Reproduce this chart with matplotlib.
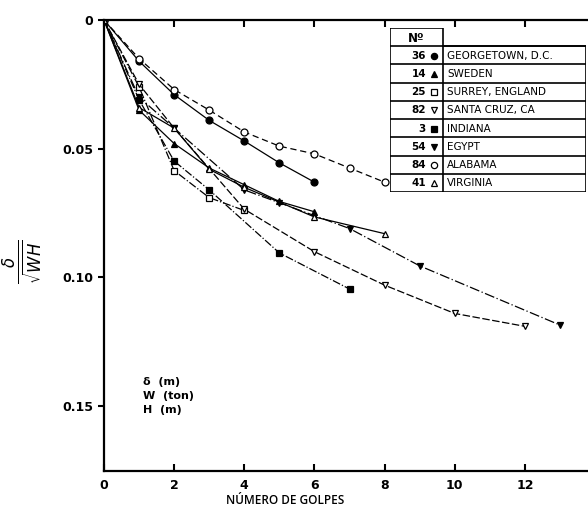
import matplotlib.pyplot as plt

# blows vs. normalised set, one series per site
golpes_georgetown = [0, 1, 2, 3, 4, 5, 6]
set_georgetown = [0, 0.016, 0.029, 0.039, 0.047, 0.0555, 0.063]

golpes_sweden = [0, 1, 2, 3, 4, 5, 6]
set_sweden = [0, 0.035, 0.048, 0.0575, 0.064, 0.0705, 0.0745]

golpes_surrey = [0, 1, 2, 3, 4]
set_surrey = [0, 0.026, 0.0585, 0.069, 0.074]

golpes_santacruz = [0, 1, 2, 4, 6, 8, 10, 12]
set_santacruz = [0, 0.025, 0.042, 0.0735, 0.090, 0.103, 0.114, 0.119]

golpes_indiana = [0, 1, 2, 3, 5, 7]
set_indiana = [0, 0.031, 0.0548, 0.066, 0.0905, 0.1045]

golpes_egypt = [0, 1, 2, 4, 5, 7, 9, 13]
set_egypt = [0, 0.030, 0.042, 0.066, 0.071, 0.081, 0.0955, 0.1185]

golpes_alabama = [0, 1, 2, 3, 4, 5, 6, 7, 8]
set_alabama = [0, 0.015, 0.027, 0.035, 0.0435, 0.049, 0.052, 0.0575, 0.063]

golpes_virginia = [0, 1, 2, 3, 4, 6, 8]
set_virginia = [0, 0.034, 0.042, 0.058, 0.065, 0.0765, 0.083]

numeros = ['36', '14', '25', '82', '3', '54', '84', '41']
sitios = ['GEORGETOWN, D.C.', 'SWEDEN', 'SURREY, ENGLAND', 'SANTA CRUZ, CA',
          'INDIANA', 'EGYPT', 'ALABAMA', 'VIRGINIA']

series = [
    (golpes_georgetown, set_georgetown, 'o', 'k', '-'),
    (golpes_sweden, set_sweden, '^', 'k', '-'),
    (golpes_surrey, set_surrey, 's', 'w', '-.'),
    (golpes_santacruz, set_santacruz, 'v', 'w', (0, (6, 2))),
    (golpes_indiana, set_indiana, 's', 'k', '-.'),
    (golpes_egypt, set_egypt, 'v', 'k', (0, (8, 2, 1, 2))),
    (golpes_alabama, set_alabama, 'o', 'w', (0, (5, 3))),
    (golpes_virginia, set_virginia, '^', 'w', '-'),
]

fig = plt.figure(figsize=(5.88, 5.13), dpi=100)
ax = fig.add_axes([104 / 588, 1 - 471 / 513, 1 - 104 / 588, (471 - 20) / 513])

for x, y, m, fc, ls in series:
    ax.plot(x, y, color='k', lw=0.9, ls=ls, marker=m, ms=5,
            markerfacecolor=fc, markeredgecolor='k', markeredgewidth=0.9)

ax.set_xlim(0, 13.8)
ax.set_ylim(0.1752, 0)
ax.set_xticks([0, 2, 4, 6, 8, 10, 12])
ax.set_yticks([0, 0.05, 0.10, 0.15])
ax.set_yticklabels(['0', '0.05', '0.10', '0.15'])
ax.spines['right'].set_visible(False)
for s in ['left', 'bottom', 'top']:
    ax.spines[s].set_linewidth(1.6)
ax.tick_params(axis='x', direction='in', top=True, length=5, width=1.5,
               labelsize=9, pad=6)
ax.tick_params(axis='y', direction='out', length=4, width=1.5, labelsize=9)
for t in ax.get_xticklabels() + ax.get_yticklabels():
    t.set_fontweight('bold')

ax.set_xlabel('NÚMERO DE GOLPES', fontsize=8.5, family='Open Sans',
              fontweight='semibold')
ax.xaxis.set_label_coords((285 - 104) / 484, -0.05)
fig.text(22 / 588, 1 - 262 / 513, r'$\frac{\delta}{\sqrt{WH}}$', rotation=90,
         fontsize=17, ha='center', va='center')

ax.text(1.1, 0.146, 'δ  (m)\nW  (ton)\nH  (m)', fontsize=8,
        fontweight='bold', va='center', linespacing=1.5)

# table of sites drawn in its own pixel frame
tab = fig.add_axes([390 / 588, 1 - 192 / 513, (586 - 390) / 588,
                    (192 - 28) / 513])
tab.set_xlim(390, 586)
tab.set_ylim(192, 28)
tab.axis('off')
top, head, bot = 28, 46, 192
row_h = (bot - head) / len(sitios)
lw = 1.2
tab.plot([390, 443, 443, 390, 390], [top, top, bot, bot, top], color='k', lw=lw)
tab.plot([443, 586, 586, 443], [head, head, bot, bot], color='k', lw=lw)
tab.text(416, (top + head) / 2 + 1, 'Nº', ha='center', va='center',
         fontsize=8.5, fontweight='bold')
for i, (num, sitio) in enumerate(zip(numeros, sitios)):
    y0 = head + i * row_h
    tab.plot([390, 586], [y0, y0], color='k', lw=lw)
    yc = y0 + row_h / 2 + 0.5
    m, fc = series[i][2], series[i][3]
    tab.text(426, yc, num, ha='right', va='center', fontsize=7.5,
             fontweight='bold')
    tab.plot([434], [yc], marker=m, ms=4.5, markerfacecolor=fc,
             markeredgecolor='k', markeredgewidth=0.9, ls='none')
    tab.text(447, yc, sitio, ha='left', va='center', fontsize=7.5)

fig.savefig('out.png', dpi=100)
